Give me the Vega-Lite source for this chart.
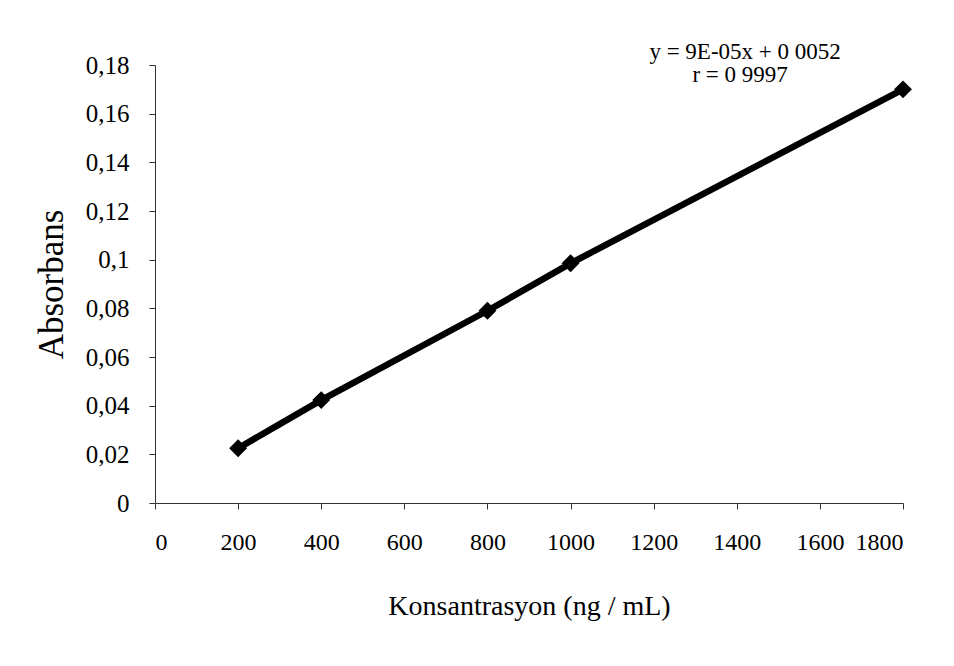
{
  "$schema": "https://vega.github.io/schema/vega-lite/v6.json",
  "autosize": "none",
  "width": 748,
  "height": 438,
  "padding": {"left": 155, "top": 65, "right": 51, "bottom": 163},
  "background": "white",
  "config": {
    "view": {"stroke": null},
    "font": "Liberation Serif",
    "axis": {"grid": false, "domainColor": "#333", "tickColor": "#333", "domainWidth": 1, "tickWidth": 1, "tickSize": 6,
      "labelFont": "Liberation Serif", "titleFont": "Liberation Serif", "labelColor": "black", "titleColor": "black", "titleFontWeight": "normal"}
  },
  "datasets": {
    "pts": [
      {"konsantrasyon": 200, "absorbans": 0.0225},
      {"konsantrasyon": 400, "absorbans": 0.0423},
      {"konsantrasyon": 800, "absorbans": 0.079},
      {"konsantrasyon": 1000, "absorbans": 0.0985},
      {"konsantrasyon": 1800, "absorbans": 0.17}
    ],
    "notes": [
      {"konsantrasyon": 1420, "absorbans": 0.1826, "label": "y = 9E-05x + 0 0052"},
      {"konsantrasyon": 1408, "absorbans": 0.1732, "label": "r = 0 9997"}
    ]
  },
  "layer": [
    {
      "data": {"name": "pts"},
      "mark": {"type": "line", "color": "black", "strokeWidth": 6.5},
      "encoding": {
        "x": {"field": "konsantrasyon", "type": "quantitative", "scale": {"domain": [0, 1800], "nice": false},
          "axis": {"title": "Konsantrasyon (ng / mL)", "values": [0, 200, 400, 600, 800, 1000, 1200, 1400, 1600, 1800], "format": "d",
            "labelFontSize": 24, "labelPadding": 21, "titleFontSize": 28, "titlePadding": 38}},
        "y": {"field": "absorbans", "type": "quantitative", "scale": {"domain": [0, 0.18], "nice": false},
          "axis": {"title": "Absorbans", "values": [0, 0.02, 0.04, 0.06, 0.08, 0.1, 0.12, 0.14, 0.16, 0.18],
            "labelExpr": "replace(format(datum.value, '.2~f'), '.', ',')",
            "labelFontSize": 25, "labelPadding": 20, "titleFontSize": 35, "titlePadding": 16}}
      }
    },
    {
      "data": {"name": "pts"},
      "mark": {"type": "point", "shape": "diamond", "filled": true, "color": "black", "size": 320, "opacity": 1},
      "encoding": {
        "x": {"field": "konsantrasyon", "type": "quantitative"},
        "y": {"field": "absorbans", "type": "quantitative"}
      }
    },
    {
      "data": {"name": "notes"},
      "mark": {"type": "text", "fontSize": 23, "color": "black", "font": "Liberation Serif", "align": "center", "baseline": "alphabetic", "clip": false},
      "encoding": {
        "x": {"field": "konsantrasyon", "type": "quantitative"},
        "y": {"field": "absorbans", "type": "quantitative"},
        "text": {"field": "label"}
      }
    }
  ]
}
